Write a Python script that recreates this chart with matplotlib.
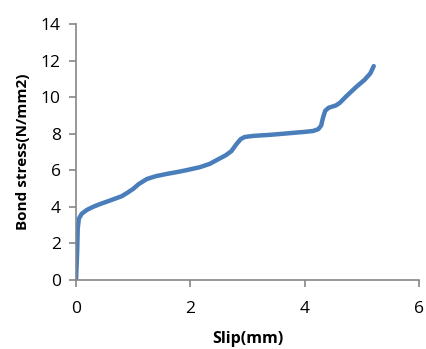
import matplotlib.pyplot as plt

# slip (mm) vs bond stress (N/mm2)
slip = [0.0, 0.02, 0.03, 0.05, 0.10, 0.19, 0.30, 0.42, 0.60, 0.80, 0.89, 1.00, 1.10,
        1.24, 1.40, 1.59, 1.80, 1.94, 2.17, 2.34, 2.50, 2.62, 2.72, 2.80, 2.88,
        2.95, 3.10, 3.40, 3.70, 4.00, 4.15, 4.24, 4.29, 4.32, 4.36, 4.42, 4.55,
        4.62, 4.73, 4.90, 5.05, 5.15, 5.21]
stress = [0.0, 1.5, 2.8, 3.35, 3.62, 3.83, 4.0, 4.15, 4.35, 4.58, 4.75, 4.98, 5.25,
          5.52, 5.68, 5.80, 5.92, 6.01, 6.17, 6.35, 6.62, 6.82, 7.05, 7.40, 7.70,
          7.82, 7.88, 7.94, 8.02, 8.10, 8.15, 8.25, 8.45, 8.85, 9.25, 9.42, 9.55,
          9.70, 10.05, 10.55, 10.95, 11.30, 11.70]

plt.rcParams['font.family'] = ['Open Sans', 'DejaVu Sans']

fig = plt.figure(figsize=(4.27, 3.49), dpi=100)
ax = fig.add_axes([0.178, 0.198, 0.803, 0.733])

ax.plot(slip, stress, color="#4a7ebb", linewidth=3.2, solid_capstyle="round",
        solid_joinstyle="round")

ax.set_xlim(0, 6)
ax.set_ylim(0, 14)
ax.set_xticks([0, 2, 4, 6])
ax.set_yticks(range(0, 15, 2))

ax.set_xlabel("Slip(mm)", fontsize=11.5, fontweight="bold", va="center")
ax.set_ylabel("Bond stress(N/mm2)", fontsize=11, fontweight="bold", va="center")
ax.xaxis.set_label_coords(0.5, -0.23)
ax.yaxis.set_label_coords(-0.155, 0.5)

ax.tick_params(axis="both", labelsize=12.5, color="#868686", length=5, width=1.2,
               direction="out")
ax.tick_params(axis="x", pad=10)
ax.tick_params(axis="y", pad=6)

for side in ["top", "right"]:
    ax.spines[side].set_visible(False)
for side in ["left", "bottom"]:
    ax.spines[side].set_color("#868686")
    ax.spines[side].set_linewidth(1.2)

fig.savefig("out.png", dpi=100)
plt.close(fig)
